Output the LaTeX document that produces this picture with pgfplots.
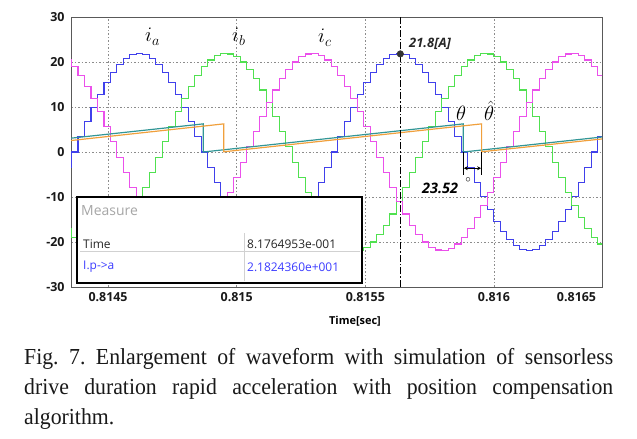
\documentclass[border=0pt]{standalone}
\usepackage{pgfplots}
\pgfplotsset{compat=1.18}
\usepackage{pgfplotstable}
\usepackage{fontspec}
\setmainfont{Open Sans}
\newfontfamily\capfont[FakeStretch=0.95]{Liberation Serif}
\usetikzlibrary{arrows.meta}
\definecolor{cA}{RGB}{64,64,235}
\definecolor{cB}{RGB}{80,225,80}
\definecolor{cC}{RGB}{235,80,235}
\definecolor{cT}{RGB}{50,150,150}
\definecolor{cO}{RGB}{240,160,60}
\definecolor{cM}{RGB}{60,60,255}
\pgfplotstableread{
t a b c
332.6 -3.43 -17.02 20.45
357.9 0 -18.97 18.97
383.1 3.43 -20.45 17.02
408.4 6.77 -21.42 14.65
433.6 9.94 -21.87 11.93
458.9 12.87 -21.78 8.91
484.1 15.49 -21.15 5.67
509.4 17.72 -20.01 2.29
534.6 19.51 -18.37 -1.15
559.9 20.83 -16.27 -4.55
585.1 21.63 -13.78 -7.85
610.4 21.90 -10.95 -10.95
635.6 21.63 -7.85 -13.78
660.9 20.83 -4.55 -16.27
686.1 19.51 -1.15 -18.37
711.4 17.72 2.29 -20.01
736.6 15.49 5.67 -21.15
761.9 12.87 8.91 -21.78
787.1 9.94 11.93 -21.87
812.4 6.77 14.65 -21.42
837.6 3.43 17.02 -20.45
862.9 0 18.97 -18.97
888.1 -3.43 20.45 -17.02
913.4 -6.77 21.42 -14.65
938.6 -9.94 21.87 -11.93
963.9 -12.87 21.78 -8.91
989.1 -15.49 21.15 -5.67
1014.4 -17.72 20.01 -2.29
1039.6 -19.51 18.37 1.15
1064.9 -20.83 16.27 4.55
1090.1 -21.63 13.78 7.85
1115.4 -21.90 10.95 10.95
1140.6 -21.63 7.85 13.78
1165.9 -20.83 4.55 16.27
1191.1 -19.51 1.15 18.37
1216.4 -17.72 -2.29 20.01
1241.6 -15.49 -5.67 21.15
1266.9 -12.87 -8.91 21.78
1292.1 -9.94 -11.93 21.87
1317.4 -6.77 -14.65 21.42
1342.6 -3.43 -17.02 20.45
1367.9 0 -18.97 18.97
1393.1 3.43 -20.45 17.02
1418.4 6.77 -21.42 14.65
1443.6 9.94 -21.87 11.93
1468.9 12.87 -21.78 8.91
1494.1 15.49 -21.15 5.67
1519.4 17.72 -20.01 2.29
1544.6 19.51 -18.37 -1.15
1569.9 20.83 -16.27 -4.55
1595.1 21.63 -13.78 -7.85
1620.4 21.90 -10.95 -10.95
1645.6 21.63 -7.85 -13.78
1670.9 20.83 -4.55 -16.27
1696.1 19.51 -1.15 -18.37
1721.4 17.72 2.29 -20.01
1746.6 15.49 5.67 -21.15
1771.9 12.87 8.91 -21.78
1797.1 9.94 11.93 -21.87
1822.4 6.77 14.65 -21.42
1847.6 3.43 17.02 -20.45
1872.9 0 18.97 -18.97
1898.1 -3.43 20.45 -17.02
1923.4 -6.77 21.42 -14.65
1948.6 -9.94 21.87 -11.93
1973.9 -12.87 21.78 -8.91
1999.1 -15.49 21.15 -5.67
2024.4 -17.72 20.01 -2.29
2049.6 -19.51 18.37 1.15
2074.9 -20.83 16.27 4.55
2100.1 -21.63 13.78 7.85
2125.4 -21.90 10.95 10.95
2150.6 -21.63 7.85 13.78
2175.9 -20.83 4.55 16.27
2201.1 -19.51 1.15 18.37
2226.4 -17.72 -2.29 20.01
2251.6 -15.49 -5.67 21.15
2276.9 -12.87 -8.91 21.78
2302.1 -9.94 -11.93 21.87
2327.4 -6.77 -14.65 21.42
2352.6 -3.43 -17.02 20.45
2377.9 0 -18.97 18.97
2403.1 3.43 -20.45 17.02
2428.4 6.77 -21.42 14.65
}\currents
\begin{document}
\begin{tikzpicture}
\useasboundingbox (0,0) rectangle (637bp,439bp);
\begin{axis}[
  at={(71bp,152bp)}, anchor=south west,
  scale only axis, width=531bp, height=270bp,
  xmin=356, xmax=2420, ymin=-30, ymax=30,
  xtick={500,1000,1500,2000},
  xticklabels={0.8145,0.815,0.8155,0.816},
  extra x ticks={2321}, extra x tick labels={0.8165},
  extra x tick style={grid=none},
  ytick={-30,-20,-10,0,10,20,30},
  yticklabels={-30,-20,-10,0,10,20,30},
  xmajorgrids, ymajorgrids,
  major grid style={black!45, line width=0.6bp, dash pattern=on 1.5bp off 2bp},
  major tick length=0pt,
  axis line style={black!65, line width=0.9bp},
  tick label style={font=\fontsize{12.5}{12.5}\selectfont\bfseries, text=black!90},
  xticklabel style={yshift=-2bp},
  yticklabel style={xshift=-3bp},
]
\addplot[const plot, cA, line width=1.1bp] table[x=t,y=a]{\currents};
\addplot[const plot, cB, line width=1.1bp] table[x=t,y=b]{\currents};
\addplot[const plot, cC, line width=1.1bp] table[x=t,y=c]{\currents};
\addplot[cT, line width=1.2bp] coordinates {(356,3.07)(870,6.25)(870,0)(1881,6.25)(1881,0)(2420,3.33)};
\addplot[cO, line width=1.2bp] coordinates {(356,2.55)(950,6.25)(950,0.05)(1952,6.25)(1952,0.05)(2420,2.9)};
\addplot[black, line width=0.8bp, dash pattern=on 7bp off 2bp on 1.5bp off 2bp] coordinates {(1636,-30)(1636,30)};
\addplot[only marks, mark=*, mark size=3.3bp, mark options={fill=black!80, draw=black!80}] coordinates {(1636,21.8)};
\addplot[black, line width=1.6bp] coordinates {(1881,0)(1881,-5.2)};
\addplot[black, line width=1.6bp] coordinates {(1952,0)(1952,-5.2)};
\addplot[black, line width=1.2bp, {Stealth[length=4bp,width=4bp]}-{Stealth[length=4bp,width=4bp]}] coordinates {(1883,-3.6)(1950,-3.6)};
\end{axis}
% annotations
\node[anchor=base west, inner sep=0, font=\fontsize{20}{20}\selectfont] at (145bp,397bp) {$i_a$};
\node[anchor=base west, inner sep=0, font=\fontsize{20}{20}\selectfont] at (232bp,397bp) {$i_b$};
\node[anchor=base west, inner sep=0, font=\fontsize{20}{20}\selectfont] at (318bp,396bp) {$i_c$};
\node[anchor=west, inner sep=0, font=\fontsize{13}{13}\selectfont\bfseries\itshape, text=black!85] at (409bp,395bp) {21.8[A]};
\node[anchor=base west, inner sep=0, font=\fontsize{22}{22}\selectfont] at (456bp,318bp) {$\theta$};
\node[anchor=base west, inner sep=0, font=\fontsize{22}{22}\selectfont] at (484bp,318bp) {$\hat{\theta}$};
\node[anchor=west, inner sep=0, font=\fontsize{14.5}{14.5}\selectfont\bfseries\itshape] at (422bp,251bp) {23.52};
\node[inner sep=0, font=\fontsize{11}{11}\selectfont] at (468bp,259bp) {$\circ$};
% measure box
\draw[line width=2.5bp, black, fill=white] (77bp,156bp) rectangle (362bp,242bp);
\draw[black!18, line width=1bp] (244bp,157.5bp) -- (244bp,206bp);
\draw[black!18, line width=1bp] (80bp,187bp) -- (360bp,187bp);
\node[anchor=west, inner sep=0, text=black!35, font=\fontsize{14}{14}\selectfont] at (81bp,228bp) {Measure};
\node[anchor=west, inner sep=0, text=black!85, font=\fontsize{12}{12}\selectfont] at (83bp,195bp) {Time};
\node[anchor=west, inner sep=0, text=cM, font=\fontsize{12}{12}\selectfont] at (83bp,172bp) {I.p->a};
\node[anchor=west, inner sep=0, text=black!85, font=\fontsize{12}{12}\selectfont] at (247bp,195bp) {8.1764953e-001};
\node[anchor=west, inner sep=0, text=cM, font=\fontsize{12}{12}\selectfont] at (247bp,172bp) {2.1824360e+001};
% x label
\node[inner sep=0, font=\fontsize{11}{11}\selectfont\bfseries] at (355bp,118bp) {Time[sec]};
% caption
\node[anchor=north west, inner sep=0, text width=589bp, align=justify, font=\capfont\fontsize{23}{30}\selectfont, text=black!90] at (24bp,91bp) {\frenchspacing\hyphenpenalty=10000 Fig. 7. Enlargement of waveform with simulation of sensorless\linebreak drive duration rapid acceleration with position compensation\linebreak algorithm.};
\end{tikzpicture}
\end{document}
